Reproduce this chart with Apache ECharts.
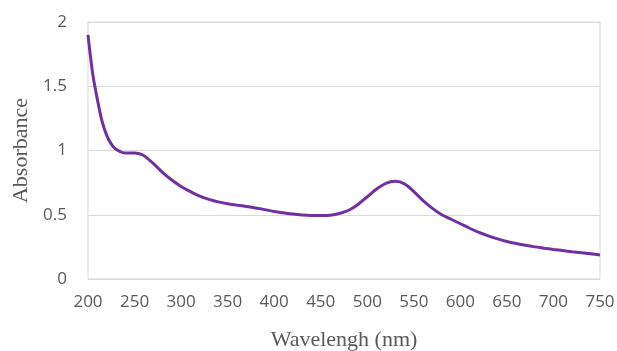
<!DOCTYPE html>
<html><head><meta charset="utf-8">
<script src="https://cdn.jsdelivr.net/npm/echarts@6/dist/echarts.min.js"></script>
<style>html,body{margin:0;padding:0;background:#fff}#c{width:617px;height:351px}</style>
</head><body><div id="c"></div>
<script>
const wavelengths = [200,205,210,215,220,225,230,240,250,255,260,270,280,290,300,310,320,330,340,350,360,370,380,390,400,410,420,430,440,450,460,470,480,490,500,510,520,530,540,550,560,570,580,590,600,610,620,630,640,650,660,670,680,690,700,710,720,730,740,750];
const absorbance = [1.90,1.60,1.40,1.23,1.12,1.05,1.01,0.98,0.98,0.975,0.96,0.90,0.83,0.77,0.72,0.68,0.645,0.62,0.60,0.585,0.575,0.565,0.553,0.54,0.526,0.515,0.505,0.498,0.495,0.495,0.497,0.51,0.535,0.58,0.64,0.70,0.745,0.76,0.74,0.68,0.61,0.55,0.50,0.465,0.43,0.395,0.362,0.335,0.312,0.292,0.276,0.262,0.25,0.24,0.23,0.221,0.212,0.204,0.196,0.187];
const xTitle = 'Wavelengh (nm)';
const yTitle = 'Absorbance';

const chart = echarts.init(document.getElementById('c'), null, {renderer:'canvas'});
chart.setOption({
  animation:false,
  grid:{left:88,right:17,top:22,bottom:72,show:true,borderColor:'#d9d9d9',borderWidth:1,outerBoundsMode:'none',containLabel:false},
  xAxis:{type:'value',min:200,max:750,interval:50,
    name:xTitle,nameLocation:'middle',nameGap:50,
    nameTextStyle:{fontFamily:'Liberation Serif',fontSize:22,color:'#595959'},
    axisLine:{show:false},axisTick:{show:false},splitLine:{show:false},
    axisLabel:{fontFamily:'Open Sans',fontSize:17,color:'#595959',margin:15}},
  yAxis:{type:'value',min:0,max:2,interval:0.5,
    name:yTitle,nameLocation:'middle',nameGap:56,
    nameTextStyle:{fontFamily:'Liberation Serif',fontSize:22,color:'#595959'},
    axisLine:{show:false},axisTick:{show:false},
    splitLine:{lineStyle:{color:'#d9d9d9',width:1}},
    axisLabel:{fontFamily:'Open Sans',fontSize:17,color:'#595959',margin:21}},
  series:[{type:'line',data:wavelengths.map((w,i)=>[w,absorbance[i]]),
    smooth:0.3,showSymbol:false,lineStyle:{color:'#7030a0',width:3}}]
});
</script></body></html>
